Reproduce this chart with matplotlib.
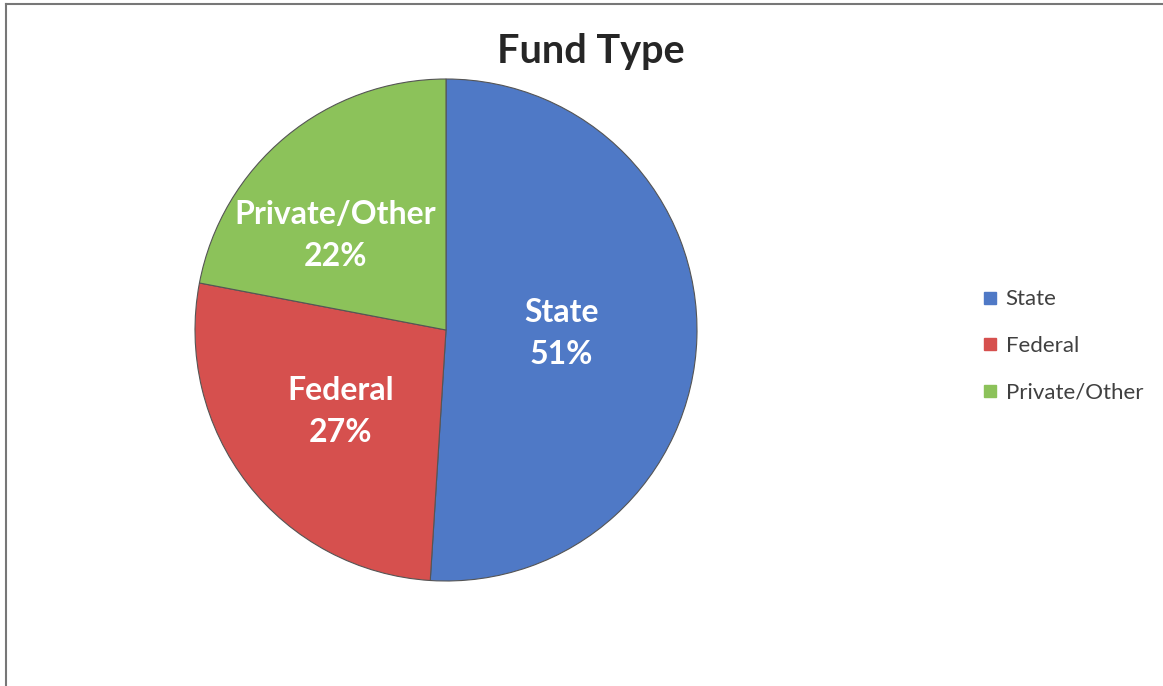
import numpy as np
import matplotlib
matplotlib.use("Agg")
import matplotlib.pyplot as plt
from matplotlib.lines import Line2D

categories = ["State", "Federal", "Private/Other"]
shares = [51, 27, 22]
colors = ["#4f79c6", "#d6504e", "#8cc25a"]

# label placement inside each slice (fraction of radius, angle nudge in degrees)
label_dist = [0.46, 0.53, 0.58]
label_nudge = [0, 0, 10]

plt.rcParams["font.family"] = ["Lato", "DejaVu Sans"]

fig = plt.figure(figsize=(11.63, 6.86), dpi=100)
W, H = 1163, 686

# pie axes: centre ~ (446, 330), radius ~ 251 px
cx, cy, r = 446, 330, 251
ax = fig.add_axes([(cx - r) / W, (H - cy - r) / H, 2 * r / W, 2 * r / H])

wedges, _ = ax.pie(shares, colors=colors, startangle=90, counterclock=False,
                   wedgeprops=dict(edgecolor="#555555", linewidth=0.8))
ax.set_xlim(-1, 1)
ax.set_ylim(-1, 1)
ax.set_aspect("equal")

for w, cat, val, d, nud in zip(wedges, categories, shares, label_dist, label_nudge):
    ang = np.deg2rad((w.theta1 + w.theta2) / 2 + nud)
    ax.text(d * np.cos(ang), d * np.sin(ang), f"{cat}\n{val}%",
            ha="center", va="center", color="white", fontsize=23,
            fontweight="bold", linespacing=1.55)

fig.text(591 / W, 1 - 52 / H, "Fund Type", ha="center", va="center",
         fontsize=28.5, fontweight="bold", color="#262626")

handles = [Line2D([], [], marker="s", linestyle="none", markersize=8,
                  markerfacecolor=c, markeredgecolor=c) for c in colors]
leg = fig.legend(handles, categories, loc="center left",
                 bbox_to_anchor=(960 / W, 1 - 346 / H), frameon=False,
                 fontsize=16, labelspacing=1.2, handletextpad=0.25,
                 handlelength=0.9)
for t in leg.get_texts():
    t.set_color("#404040")

# border on top and left edges
fig.add_artist(Line2D([6 / W, 6 / W], [0, 1 - 4 / H], color="#777777", lw=1.5))
fig.add_artist(Line2D([6 / W, 1], [1 - 4 / H, 1 - 4 / H], color="#777777", lw=1.5))

fig.savefig("out.png", dpi=100)
